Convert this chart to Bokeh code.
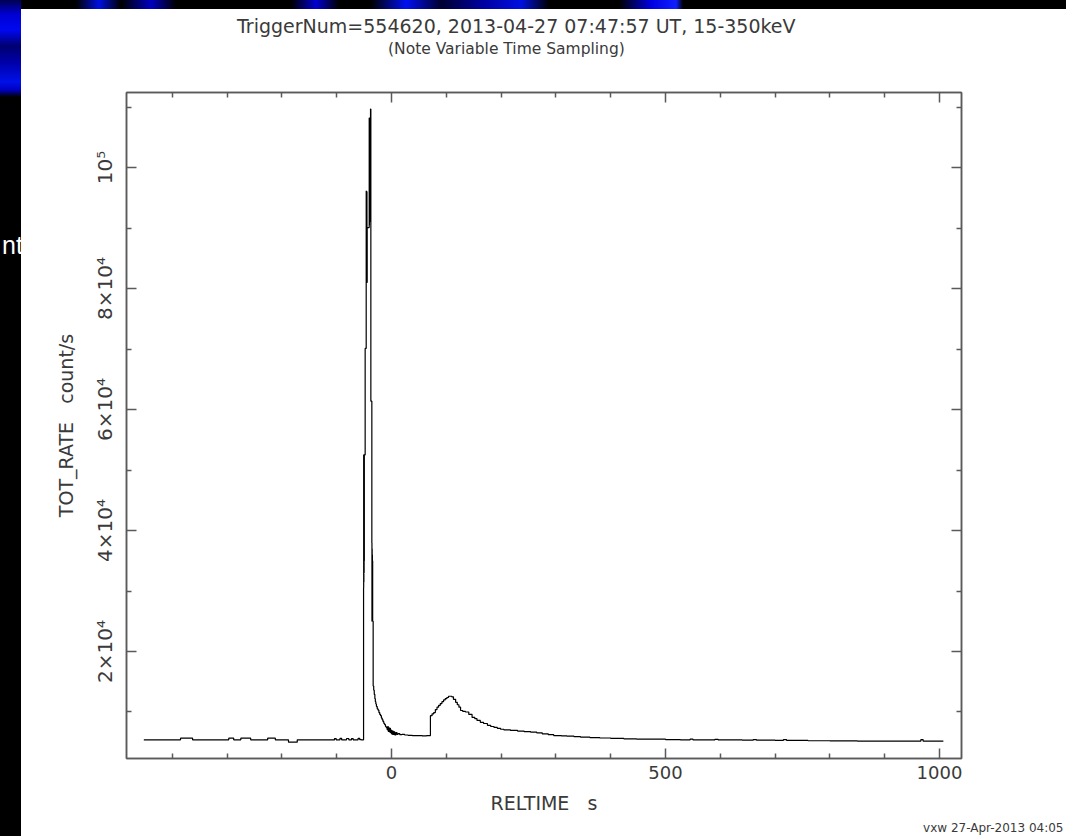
from bokeh.plotting import figure
from bokeh.models import (Range1d, FixedTicker, LinearAxis, Div,
                          CustomJSTickFormatter)
from bokeh.core.properties import value
from bokeh.layouts import row, column
from bokeh.embed import file_html
from bokeh.resources import INLINE

# ---------------- data ----------------
# pre-burst background (variable sampling, long bins)
pre_time = [-452, -385, -363, -297, -288, -275, -257, -226, -212, -188, -172, -150,
            -104, -101, -94, -91, -82, -78, -73, -70, -61, -58, -55]
pre_rate = [5400, 5670, 5400, 5670, 5400, 5670, 5400, 5670, 5400, 5010, 5400, 5380,
            5600, 5400, 5650, 5400, 5620, 5400, 5600, 5400, 5650, 5420, 5400]

# main pulse (fine sampling)
burst_time = [-51.0, -50.8, -50.6, -50.4, -50.2, -50.0, -49.8, -49.6, -48.1,
              -46.2, -46.0, -45.8, -45.6, -45.4, -45.2, -45.0, -44.8, -44.4,
              -40.7, -40.5, -40.3, -40.1, -39.9, -39.7, -39.5, -39.3, -39.0, -38.6, -38.3,
              -37.7, -35.9, -35.7, -35.5, -35.3, -35.1, -34.9, -34.7, -34.4,
              -33.5, -32.5, -31.5, -30.4, -29.5, -28.6]
burst_rate = [30550, 52500, 31500, 50000, 33000, 52000, 35000, 52500, 70100,
              96100, 81000, 95000, 82000, 94000, 83000, 96000, 81000, 90070,
              108200, 90500, 107000, 91000, 106000, 92000, 108000, 95000, 106000, 108200, 109670,
              61370, 37950, 25010, 37000, 26000, 36000, 27000, 35000, 25010,
              14280, 13600, 12900, 12200, 11700, 11320]

# decay after the main pulse
decay_time = [-27.5, -26.0, -24.5, -23.0, -21.5, -20.0, -18.5, -17.0, -15.5, -14.0,
              -12.5, -11.0, -9.5, -8.0, -7.0, -6.0, -5.0, -4.0, -3.0, -2.0,
              -1.0, 0.0, 1.0, 2.0, 3.0, 4.0, 5.0, 6.0, 8.0, 10.0,
              12.0, 15.0, 19.0, 24.0, 30.0, 38.0, 47.0, 56.0, 64.0]
decay_rate = [10900, 10500, 10300, 9900, 9600, 9400, 9000, 8700, 8400, 8100,
              7900, 7600, 7400, 7100, 7600, 6800, 7400, 6700, 7300, 6600,
              7000, 6400, 6900, 6300, 6800, 6300, 6700, 6200, 6600, 6300,
              6450, 6250, 6300, 6200, 6150, 6100, 6100, 6050, 6100]

# second episode and long tail
tail_time = [71, 74, 77, 80, 83, 86, 89, 92, 95, 98,
             101, 104, 110, 113, 117, 120, 123, 126, 130, 135,
             141, 147, 152, 156, 162, 168, 175, 181, 187, 193,
             199, 205, 217, 230, 242, 254, 265, 275, 286, 296,
             310, 320, 333, 345, 362, 380, 400, 424, 447, 470,
             500, 527, 545, 550, 580, 590, 596, 640, 660, 666,
             700, 715, 721, 760, 800, 850, 900, 966, 970, 1007]
tail_rate = [9400, 9700, 9900, 10400, 10800, 11100, 11400, 11700, 12000, 12200,
             12400, 12600, 12500, 12100, 11600, 11200, 10800, 10250, 10100, 10000,
             9600, 9100, 8900, 8600, 8300, 8100, 7800, 7600, 7450, 7300,
             7150, 7050, 6950, 6850, 6750, 6660, 6550, 6400, 6250, 6110,
             6050, 6000, 5920, 5840, 5780, 5700, 5630, 5570, 5530, 5500,
             5450, 5400, 5520, 5400, 5380, 5480, 5380, 5350, 5450, 5340,
             5300, 5420, 5300, 5250, 5230, 5200, 5200, 5450, 5200, 5200]

x_major = [0, 500, 1000]
x_minor = [-400, -300, -200, -100, 100, 200, 300, 400, 600, 700, 800, 900]
y_major = [20000, 40000, 60000, 80000, 100000]
y_minor = [10000, 30000, 50000, 70000, 90000, 110000]
y_labels = ["2×10⁴", "4×10⁴", "6×10⁴", "8×10⁴", "10⁵"]

title_1 = "TriggerNum=554620, 2013-04-27 07:47:57 UT, 15-350keV"
title_2 = "(Note Variable Time Sampling)"
x_title = "RELTIME\u00a0\u00a0\u00a0s"
y_title = "TOT_RATE\u00a0\u00a0\u00a0count/s"
footer = "vxw 27-Apr-2013 04:05"

FONT = "DejaVu Sans"
TXT = "#3a3a3a"
AX = "#5a5a5a"

# page layout: left strip 21 px, top strip 9 px
FW = 1045
TITLE_H = 70          # page y 9..79
MAIN_H = 741          # page y 79..820
FOOT_H = 16           # page y 820..836
X0, X1 = -483.6, 1040.1
Y0, Y1 = 2314, 112397


def text_strip(h):
    f = figure(width=FW, height=h, x_range=Range1d(0, FW), y_range=Range1d(h, 0),
               title=None, output_backend="svg", toolbar_location=None,
               x_axis_type=None, y_axis_type=None,
               min_border=0, min_border_top=0, min_border_bottom=0,
               min_border_left=0, min_border_right=0, outline_line_color=None,
               border_fill_color="white", background_fill_color="white")
    f.title_location = None
    f.xgrid.visible = False
    f.ygrid.visible = False
    f.margin = 0
    f.frame_align = False
    return f

# ---------------- title strip (texts in pixel space) ----------------
tfig = text_strip(TITLE_H)
tfig.text(x=[236.5 - 21], y=[25 - 9], text=[title_1], text_font=value(FONT),
          text_font_size=value("19px"), text_color=TXT, text_align="left",
          text_baseline="alphabetic")
tfig.text(x=[387.5 - 21], y=[48 - 9], text=[title_2], text_font=value(FONT),
          text_font_size=value("15.5px"), text_color=TXT, text_align="left",
          text_baseline="alphabetic")

# ---------------- main plot ----------------
p = figure(width=FW, height=MAIN_H, x_range=Range1d(X0, X1), y_range=Range1d(Y0, Y1),
           title=None, output_backend="svg", toolbar_location=None,
           min_border_left=105, min_border_right=105, min_border_top=13, min_border_bottom=62,
           border_fill_color="white", background_fill_color="white",
           outline_line_color=AX, outline_line_width=1.5)
p.title_location = None
p.xgrid.visible = False
p.ygrid.visible = False
p.margin = 0
p.frame_align = False

time_all = pre_time + burst_time + decay_time + tail_time
rate_all = pre_rate + burst_rate + decay_rate + tail_rate
p.step(time_all, rate_all, mode="after", line_color="black", line_width=1.2)

xt = FixedTicker(ticks=x_major, minor_ticks=x_minor)
yt = FixedTicker(ticks=y_major, minor_ticks=y_minor)

def style_axis(ax):
    ax.axis_line_color = AX
    ax.axis_line_width = 1.5
    ax.major_tick_line_color = AX
    ax.minor_tick_line_color = AX
    ax.major_tick_line_width = 1.5
    ax.minor_tick_line_width = 1.5
    ax.major_tick_in = 10
    ax.major_tick_out = 0
    ax.minor_tick_in = 5
    ax.minor_tick_out = 0
    ax.major_label_text_font = FONT
    ax.major_label_text_color = TXT
    ax.major_label_text_font_size = "18px"
    ax.axis_label_text_font = FONT
    ax.axis_label_text_color = TXT
    ax.axis_label_text_font_size = "19px"
    ax.axis_label_text_font_style = "normal"

xa = p.xaxis[0]
xa.ticker = xt
style_axis(xa)
xa.axis_label = x_title
xa.major_label_standoff = 7
xa.axis_label_standoff = 10

ya = p.yaxis[0]
ya.ticker = yt
style_axis(ya)
ya.axis_label = y_title
ya.major_label_orientation = "parallel"
ya.major_label_text_font_size = "20px"
ya.major_label_overrides = {v: s for v, s in zip(y_major, y_labels)}
ya.major_label_standoff = 9
ya.axis_label_standoff = 14

blank = CustomJSTickFormatter(code="return ''")
top = LinearAxis(ticker=xt, formatter=blank)
style_axis(top)
right = LinearAxis(ticker=yt, formatter=blank)
style_axis(right)
p.add_layout(top, "above")
p.add_layout(right, "right")

# ---------------- footer strip ----------------
ffig = text_strip(FOOT_H)
ffig.text(x=[1063 - 21], y=[827 - 820], text=[footer], text_font=value(FONT),
          text_font_size=value("12px"), text_color=TXT, text_align="right",
          text_baseline="alphabetic")

# ---------------- slide background strips ----------------
left_div = Div(width=21, height=836, margin=0,
               styles={"background": "linear-gradient(to bottom, #000050 0px, #0000d0 14px, #0008f0 30px, #000070 46px, #0000a8 62px, #0010e8 82px, #0000c0 90px, #000000 97px, #000000 100%)",
                       "overflow": "hidden"},
               text='<div style="margin-top:233px;margin-left:2px;color:#ffffff;font-family:\'Liberation Sans\';font-size:25px;line-height:25px;white-space:nowrap">nt</div>')
top_div = Div(width=FW, height=9, margin=0,
              styles={"background": "linear-gradient(to right, #000 0px, #000 55px, #0010e0 78px, #000 100px, #0000c0 130px, #000 155px, #000 270px, #0000d0 295px, #000 318px, #000 350px, #0010f0 385px, #000030 420px, #0000a0 462px, #0010e0 500px, #000 528px, #000 598px, #0000e0 630px, #1020ff 655px, #000 662px, #000 100%)",
                      "overflow": "hidden"})

layout = row(left_div, column(top_div, tfig, p, ffig, spacing=0), spacing=0)

open("out.html", "w").write(file_html(layout, INLINE))
